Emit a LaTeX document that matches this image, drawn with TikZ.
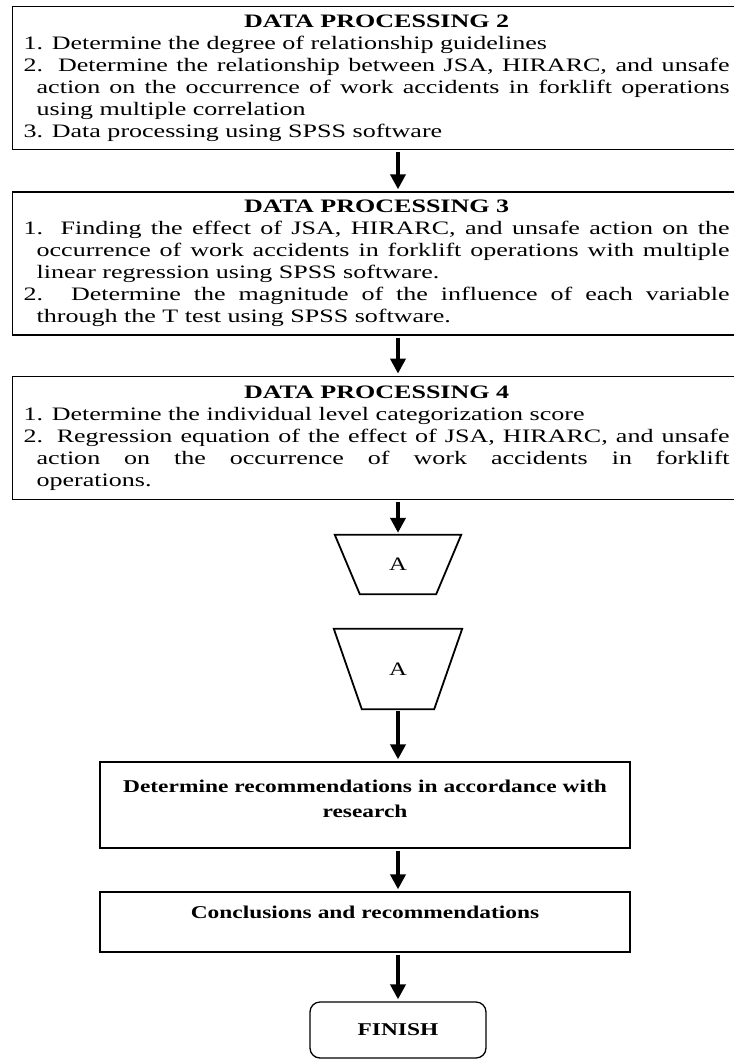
\documentclass[tikz,border=0pt]{standalone}
\usepackage{fontspec}
\setmainfont{Liberation Serif}[FakeStretch=1.3]
\newfontfamily\dpfont{Liberation Serif}[FakeStretch=1.37]
\usetikzlibrary{arrows.meta,positioning}
\setlength{\parindent}{0pt}
\newcommand{\dpitem}[1]{\par\hangindent=13pt\hangafter=1 #1\par}
\newcommand{\dptitle}[1]{{\centering\bfseries #1\par}}
\tikzset{dpbox/.style={draw,line width=1.3pt,minimum width=728pt,text width=706pt,inner xsep=11pt,inner ysep=6pt,align=justify,font=\dpfont\fontsize{19}{22}\selectfont},
  offpage/.style={font=\fontsize{19}{22}\selectfont},
  trapline/.style={draw,line width=1.8pt,line join=miter},
  endbox/.style={draw,line width=1.3pt,minimum width=530pt,text width=510pt,align=center,font=\fontsize{18}{25}\selectfont\bfseries},
  finbox/.style={draw,line width=1.3pt,rounded corners=10pt,minimum width=176pt,minimum height=56pt,font=\fontsize{18}{22}\selectfont\bfseries},
  arr/.style={-{Triangle[length=15pt,width=15pt]},line width=4pt,shorten <=2pt,shorten >=2pt}}

\begin{document}
\begin{tikzpicture}[x=1pt,y=1pt]
\useasboundingbox (0,0) rectangle (734,-1061);
% processing steps
\node[dpbox,anchor=north west,minimum height=143pt] (dp2) at (12,-6) {\dptitle{DATA PROCESSING 2}
\dpitem{1. Determine the degree of relationship guidelines}
\dpitem{2. Determine the relationship between JSA, HIRARC, and unsafe\linebreak action on the occurrence of work accidents in forklift operations\linebreak using multiple correlation}
\dpitem{3. Data processing using SPSS software}};
\node[dpbox,below=41pt of dp2,minimum height=143pt] (dp3) {\dptitle{DATA PROCESSING 3}
\dpitem{1. Finding the effect of JSA, HIRARC, and unsafe action on the\linebreak occurrence of work accidents in forklift operations with multiple\linebreak linear regression using SPSS software.}
\dpitem{2. Determine the magnitude of the influence of each variable\linebreak through the T test using SPSS software.}};
\node[dpbox,below=40pt of dp3,minimum height=123pt] (dp4) {\dptitle{DATA PROCESSING 4}
\dpitem{1. Determine the individual level categorization score}
\dpitem{2. Regression equation of the effect of JSA, HIRARC, and unsafe\linebreak action on the occurrence of work accidents in forklift\linebreak operations.}};
% off-page connectors
\node[offpage,minimum width=126pt,minimum height=59pt] (offA) at (398,-564.5) {A};
\draw[trapline] (offA.north west) -- (offA.north east) -- ([xshift=-25pt]offA.south east) -- ([xshift=25pt]offA.south west) -- cycle;
\node[offpage,minimum width=128pt,minimum height=80pt] (offB) at (398,-669) {A};
\draw[trapline] (offB.north west) -- (offB.north east) -- ([xshift=-28pt]offB.south east) -- ([xshift=28pt]offB.south west) -- cycle;
% closing steps
\node[endbox,minimum height=86pt] (rec) at (365,-805) {Determine recommendations in accordance with\\research\\[-12pt]\mbox{}};
\node[endbox,minimum height=60pt,text depth=20pt] (concl) at (365,-922) {Conclusions and recommendations};
\node[finbox] (finish) at (398,-1030) {FINISH};
\draw[arr] (dp2.south -| offA) -- (dp3.north -| offA);
\draw[arr] (dp3.south -| offA) -- (dp4.north -| offA);
\draw[arr] (dp4.south -| offA) -- (offA.north);
\draw[arr] (offB.south) -- (rec.north -| offB);
\draw[arr] (rec.south -| offB) -- (concl.north -| offB);
\draw[arr] (concl.south -| finish) -- (finish.north);
\end{tikzpicture}
\end{document}
